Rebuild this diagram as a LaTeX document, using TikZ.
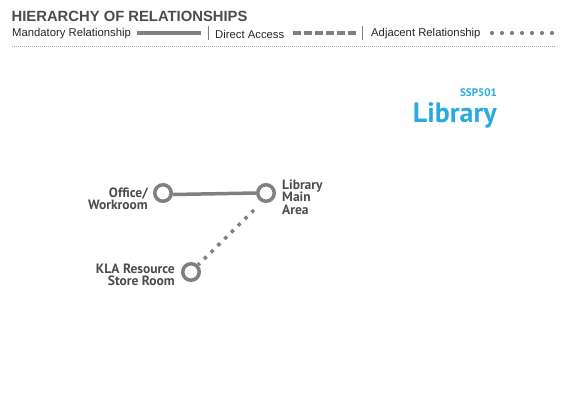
\documentclass[tikz,border=0pt]{standalone}
\usepackage{fontspec}
\usetikzlibrary{calc}
\setmainfont{Liberation Sans}
\newfontfamily\labfont{PT Sans}
\begin{document}
\begin{tikzpicture}[x=1pt,y=-1pt,
  legtext/.style={font=\fontsize{11.3}{12}\selectfont, text=black!85, inner sep=0, anchor=west},
  room/.style={circle, draw=gray50, line width=3.5pt, minimum size=16.5pt, inner sep=0},
  roomlab/.style={font=\labfont\bfseries\fontsize{13.5}{12.5}\selectfont, text=black!70, inner sep=0, align=#1},
  mand/.style={draw=gray50, line width=3.5pt},
  adj/.style={draw=gray50, line width=3.5pt, dash pattern=on 3.5pt off 6pt},
  dacc/.style={draw=gray50, line width=4pt, dash pattern=on 8pt off 3pt}
]
\definecolor{gray50}{HTML}{808080}
\definecolor{blueti}{HTML}{29ABE2}
\useasboundingbox (0,0) rectangle (565,400);
% header
\node[font=\bfseries\fontsize{14.8}{14}\selectfont, text=black!70, inner sep=0, anchor=west] (title) at (11.5,16) {HIERARCHY OF RELATIONSHIPS};
\node[legtext] (l1) at (12,34) {Mandatory Relationship};
\coordinate (m1) at (137,33); \coordinate (m2) at (201,33);
\draw[mand, line width=4pt] (m1) -- (m2);
\coordinate (s1a) at (208,26); \coordinate (s1b) at (208,40);
\draw[gray50, line width=0.8pt] (s1a) -- (s1b);
\node[legtext] (l2) at (215,34) {Direct Access};
\coordinate (d1) at (293,33); \coordinate (d2) at (356,33);
\draw[dacc] (d1) -- (d2);
\coordinate (s2a) at (362,26); \coordinate (s2b) at (362,40);
\draw[gray50, line width=0.8pt] (s2a) -- (s2b);
\node[legtext] (l3) at (371,34) {Adjacent Relationship};
\foreach \i in {0,...,6} { \fill[gray50] (492+\i*10,33) circle (2.1pt); }
\coordinate (h1) at (12,46); \coordinate (h2) at (555,46);
\draw[gray50!70, line width=0.6pt, dash pattern=on 1pt off 1pt] (h1) -- (h2);
% title
\node[font=\labfont\bfseries\fontsize{11}{11}\selectfont, text=blueti, inner sep=0, anchor=east] (ssp) at (497,93) {SSP501};
\node[font=\labfont\bfseries\fontsize{28}{28}\selectfont, text=blueti, inner sep=0, anchor=east] (lib) at (497,115) {Library};
% rooms
\node[room] (off) at (163,193) {};
\node[room] (main) at (266,193) {};
\node[room] (kla) at (191,272) {};
\coordinate (mandstart) at ($(off.east)+(0,1.5)$);
\draw[mand] (mandstart) -- (main.west);
\coordinate (adjstart) at ($(main)+(-12,17)$);
\draw[adj] (adjstart) -- (kla.north east);
\node[roomlab=right, anchor=east] (offl) at (148,199) {Office/\\Workroom};
\node[roomlab=left, anchor=west] (mainl) at (282,197) {Library\\Main\\Area};
\node[roomlab=right, anchor=east] (klal) at (175,275) {KLA Resource\\Store Room};
\end{tikzpicture}
\end{document}
